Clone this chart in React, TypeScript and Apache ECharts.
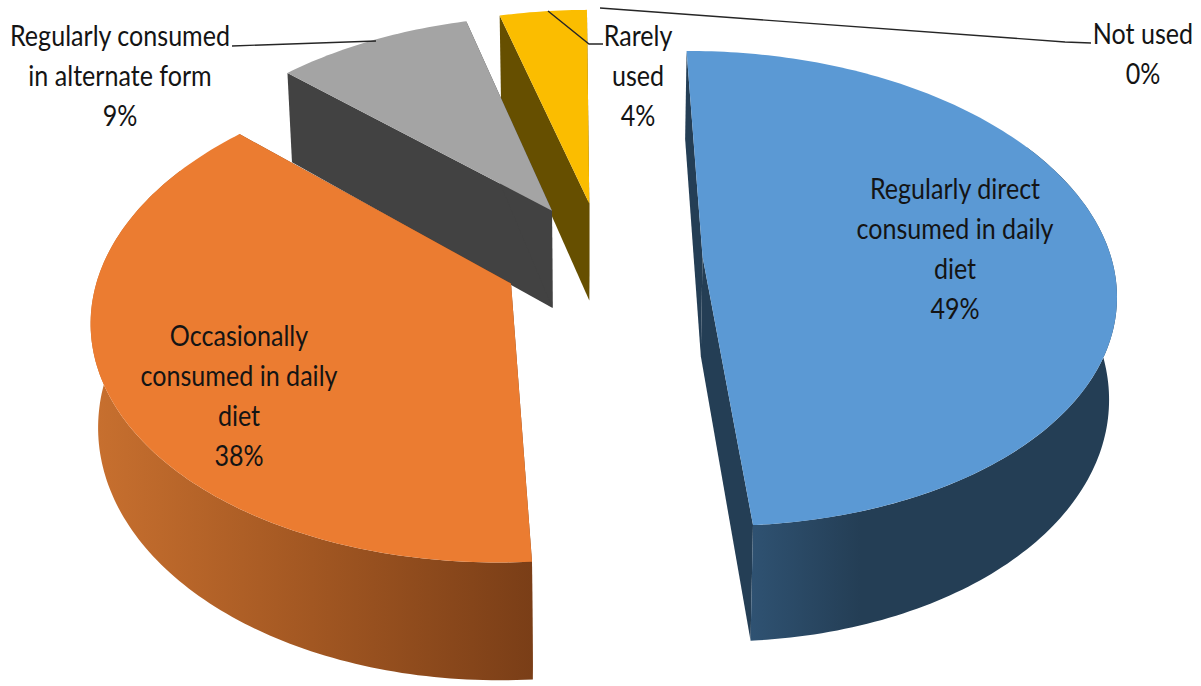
import React, { useEffect, useRef } from "react";
import * as echarts from "echarts";

// Usage shares of the five consumption categories, clockwise from twelve o'clock.
const categories = [
  "Regularly direct\nconsumed in daily\ndiet",
  "Occasionally\nconsumed in daily\ndiet",
  "Regularly consumed\nin alternate form",
  "Rarely\nused",
  "Not used",
];
const shares = [49, 38, 9, 4, 0];
const topColors = ["#5B99D4", "#EB7C31", "#A4A4A4", "#FBBD00", "#4472C4"];
const cutColors = ["#243E55", "#7A3E17", "#424242", "#664F00", "#223962"];
const rimStops: string[][] = [
  ["#2F5272", "#243E55", "#243E55"],
  ["#C8702F", "#A25722", "#7A3E17"],
  ["#424242", "#424242", "#424242"],
  ["#664F00", "#664F00", "#664F00"],
  ["#223962", "#223962", "#223962"],
];
const rimStopOffsets: number[][] = [
  [0, 0.3, 1],
  [0, 0.5, 1],
  [0, 0.5, 1],
  [0, 0.5, 1],
  [0, 0.5, 1],
];

// Camera and pie geometry of the exploded 3D pie.
const VANISH_X = 590;
const VANISH_Y = -1465;
const PLANE_DROP = 1720;
const CAMERA_DIST = 3015;
const RADIUS = 408;
const THICKNESS = 100;
const EXPLODE = 100;
const CENTER_X = 12.5;
const CENTER_Y = 6;
const START_ANGLE = (-0.4 * Math.PI) / 180;
// Vertical edges lean towards the middle as they go down (the view looks downwards).
const WALL_CONVERGENCE = 0.00015;
const ARC_STEP = Math.PI / 180;

const project = (x: number, y: number, down: number): number[] => {
  const s = CAMERA_DIST / (CAMERA_DIST - y);
  return [VANISH_X + x * s * (1 - WALL_CONVERGENCE * down), VANISH_Y + (PLANE_DROP + down) * s];
};

const total = shares.reduce((a, b) => a + b, 0);

const arcAngles = (from: number, to: number): number[] => {
  const out: number[] = [];
  for (let a = from; a < to; a += ARC_STEP) out.push(a);
  out.push(to);
  return out;
};

const renderSlice = (params: any, api: any) => {
  const i = params.dataIndex;
  const value = api.value(0);
  if (!value) return { type: "group", children: [] };
  const before = shares.slice(0, i).reduce((a, b) => a + b, 0);
  const start = START_ANGLE + (before / total) * Math.PI * 2;
  const end = START_ANGLE + ((before + value) / total) * Math.PI * 2;
  const mid = (start + end) / 2;
  const ox = CENTER_X + EXPLODE * Math.sin(mid);
  const oy = CENTER_Y - EXPLODE * Math.cos(mid);
  const rim = (a: number, down: number) =>
    project(ox + RADIUS * Math.sin(a), oy - RADIUS * Math.cos(a), down);
  const apex = (down: number) => project(ox, oy, down);

  const cutFace = (a: number) => [apex(0), rim(a, 0), rim(a, THICKNESS), apex(THICKNESS)];

  // Slices further back are painted first.
  const depth = Math.round(200 + oy) * 10;
  const children: any[] = [
    {
      type: "polygon",
      z2: depth,
      shape: { points: cutFace(start) },
      style: { fill: cutColors[i] },
    },
    {
      type: "polygon",
      z2: depth,
      shape: { points: cutFace(end) },
      style: { fill: cutColors[i] },
    },
  ];

  // The curved outer wall exists only where it faces the viewer.
  const wallFrom = Math.max(start, Math.PI / 3);
  const wallTo = Math.min(end, (Math.PI * 5) / 3);
  if (wallTo > wallFrom) {
    const angles = arcAngles(wallFrom, wallTo);
    const points = [
      ...angles.map((a) => rim(a, 0)),
      ...angles.slice().reverse().map((a) => rim(a, THICKNESS)),
    ];
    children.push({
      type: "polygon",
      z2: depth + 1,
      shape: { points },
      style: {
        fill: new echarts.graphic.LinearGradient(
          0,
          0,
          1,
          0,
          rimStops[i].map((color, k) => ({ offset: rimStopOffsets[i][k], color }))
        ),
      },
    });
  }

  children.push({
    type: "polygon",
    z2: depth + 2,
    shape: { points: [apex(0), ...arcAngles(start, end).map((a) => rim(a, 0))] },
    style: { fill: topColors[i] },
  });
  return { type: "group", children };
};

const FONT = "Lato";
const sliceLabel = (text: string, x: number, y: number) => ({
  type: "text",
  x,
  y,
  z: 100,
  scaleX: 0.865,
  style: {
    text,
    font: `29px ${FONT}`,
    lineHeight: 40,
    fill: "#141414",
    textAlign: "center",
    textVerticalAlign: "top",
  },
});

const leader = (points: number[][]) => ({
  type: "polyline",
  z: 90,
  shape: { points },
  style: { stroke: "#262626", lineWidth: 1.4, fill: "none" },
});

const labelText = (i: number) => `${categories[i]}\n${shares[i]}%`;

export default function App() {
  const ref = useRef<HTMLDivElement>(null);

  useEffect(() => {
    document.body.style.margin = "0";
    const chart = echarts.init(ref.current!, undefined, { renderer: "svg" });
    chart.setOption({
      animation: false,
      backgroundColor: "#ffffff",
      series: [
        {
          type: "custom",
          coordinateSystem: "none",
          renderItem: renderSlice,
          data: shares.map((v, i) => ({ value: [v], name: categories[i] })),
          silent: true,
        },
      ],
      graphic: [
        leader([[232, 46], [376, 41]]),
        leader([[548, 11], [589, 44], [603, 44]]),
        leader([[600, 8], [1065, 42], [1091, 43]]),
        sliceLabel(labelText(0), 955, 168),
        sliceLabel(labelText(1), 239, 315),
        sliceLabel(labelText(2), 120, 15),
        sliceLabel(labelText(3), 638, 15),
        sliceLabel(labelText(4), 1143, 13),
      ],
    });
    return () => chart.dispose();
  }, []);

  return <div ref={ref} style={{ position: "absolute", left: 0, top: 0, width: 1201, height: 686 }} />;
}
